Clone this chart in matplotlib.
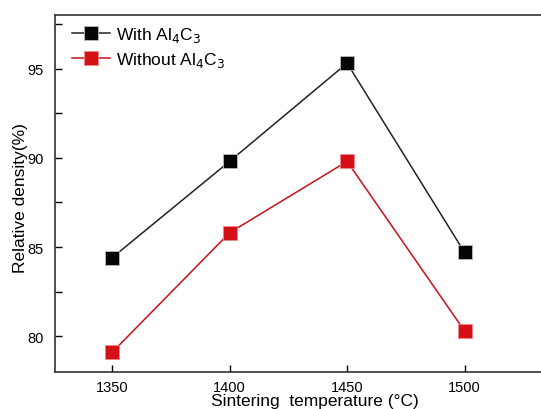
import matplotlib
matplotlib.use('Agg')
from matplotlib import pyplot as plt
from matplotlib.ticker import MultipleLocator

plt.rcParams['font.family'] = ['Liberation Sans', 'DejaVu Sans']

# data
temps = [1350, 1400, 1450, 1500]
with_al4c3 = [84.4, 89.8, 95.3, 84.7]
without_al4c3 = [79.1, 85.8, 89.8, 80.3]
labels = ['With Al$_4$C$_3$', 'Without Al$_4$C$_3$']

W, H = 541, 410
fig = plt.figure(figsize=(W / 100, H / 100), dpi=100)
# axes run past the right edge like the cropped original
ax = fig.add_axes([55 / W, 1 - 373 / H, 520 / W, 357 / H])

ax.plot(temps, with_al4c3, color='#222222', lw=1.1, marker='s', ms=9.5,
        mfc='#050505', mec='#bbbbbb', mew=0.6, label=labels[0])
ax.plot(temps, without_al4c3, color='#c8101a', lw=1.1, marker='s', ms=9.5,
        mfc='#d40f15', mec='#ee8888', mew=0.6, label=labels[1])

ax.set_xlim(1325.7, 1547)
ax.set_ylim(78, 98)
ax.set_xticks(temps)
ax.yaxis.set_major_locator(MultipleLocator(5))
ax.yaxis.set_minor_locator(MultipleLocator(2.5))
ax.tick_params(which='both', direction='in', length=5, width=1, labelsize=10.5, pad=8)
ax.tick_params(axis='x', pad=6)

for s in ax.spines.values():
    s.set_linewidth(1.2)
    s.set_color('#333333')

ax.set_xlabel('Sintering  temperature (°C)', fontsize=12.5, labelpad=-1)
ax.set_ylabel('Relative density(%)', fontsize=12.5)
ax.yaxis.set_label_coords(-0.052, 0.49)

ax.legend(loc='upper left', frameon=False, fontsize=12.5, handlelength=2.2,
          handletextpad=0.3, labelspacing=0.3, borderaxespad=0.2,
          bbox_to_anchor=(0.013, 1.0))

fig.savefig('out.png', dpi=100)
